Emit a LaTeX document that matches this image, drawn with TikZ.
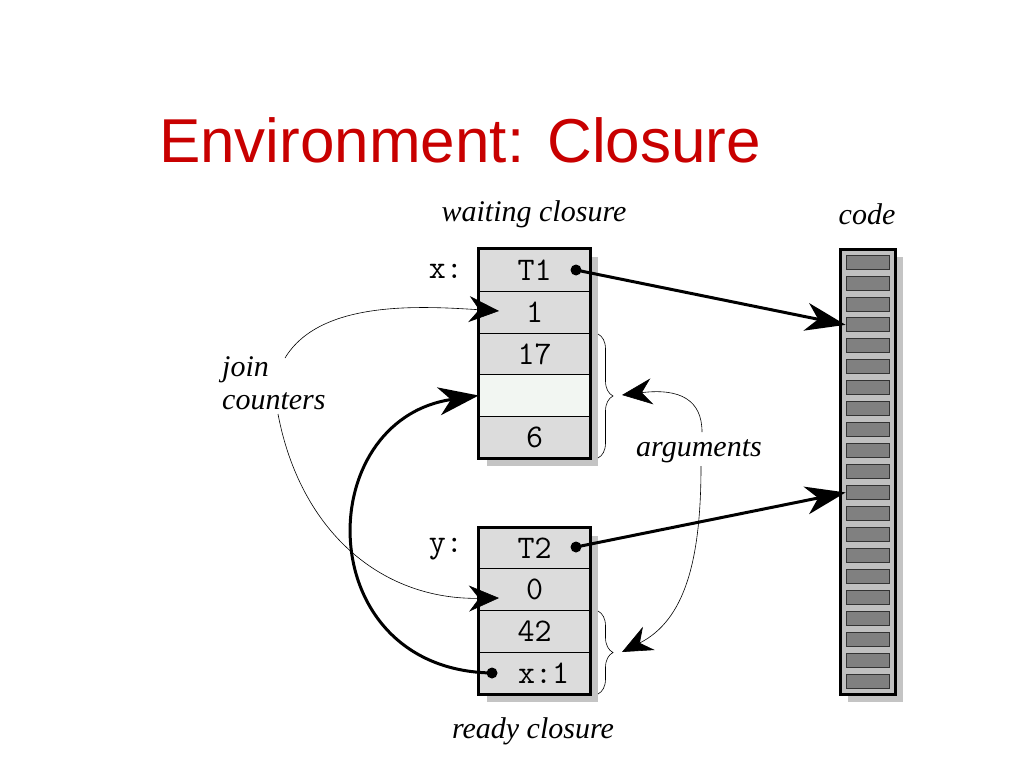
\documentclass[tikz,border=0pt]{standalone}
\usepackage{fontspec}
\setmainfont{Liberation Serif}
\newfontfamily\titlefont{Liberation Sans}
\usetikzlibrary{arrows.meta,decorations.pathreplacing}
\definecolor{titlered}{RGB}{200,0,0}
\definecolor{boxgray}{RGB}{220,220,220}
\definecolor{emptyfill}{RGB}{242,246,242}
\definecolor{shadowgray}{RGB}{196,196,196}
\definecolor{codegray}{RGB}{192,192,192}
\definecolor{slotgray}{RGB}{128,128,128}
\tikzset{
  rowbox/.style={draw, line width=0.7pt, fill=boxgray, minimum width=111pt, minimum height=41.8pt, inner sep=0pt, font=\ttfamily\fontsize{33}{34}\selectfont},
  varlabel/.style={anchor=east, inner sep=0pt, font=\ttfamily\fontsize{33}{34}\selectfont},
  itlabel/.style={inner sep=0pt, font=\itshape\fontsize{30}{33}\selectfont},
  frame/.style={draw, line width=3pt},
  slotbox/.style={draw=black!80, line width=0.8pt, fill=slotgray, minimum width=43pt, minimum height=14pt, inner sep=0pt},
  bigarrow/.style={line width=3pt, -{Stealth[length=40pt,width=28pt,inset=12pt]}},
  thinarrow/.style={line width=0.6pt, -{Stealth[length=30pt,width=26pt,inset=10pt]}},
  dotstart/.style={circle, fill=black, inner sep=0pt, minimum size=11pt},
  bracestyle/.style={draw, line width=0.6pt, decorate, decoration={brace, amplitude=15pt, aspect=0.5}}
}
\begin{document}
\begin{tikzpicture}[x=1pt,y=-1pt]
\useasboundingbox (0,0) rectangle (1024,768);
% title
\node[anchor=base, inner sep=0pt, text=titlered, font=\titlefont\fontsize{62}{70}\selectfont] (title) at (460,162) {Environment: Closure};
% headings
\node[itlabel, anchor=base] (wc) at (534,221) {waiting closure};
\node[itlabel, anchor=base] (code) at (867,224) {code};
\node[itlabel, anchor=base] (rc) at (533,738) {ready closure};

% shadows
\fill[shadowgray] (487,257) rectangle (598,466);
\fill[shadowgray] (487,536) rectangle (598,702);
\fill[shadowgray] (848,257) rectangle (903,702);

% waiting closure box
\node[rowbox] (t1) at (534.5,270) {T1};
\node[rowbox] (r1) at (534.5,312) {1};
\node[rowbox] (r17) at (534.5,354) {17};
\node[rowbox, fill=emptyfill] (rE) at (534.5,395.5) {};
\node[rowbox] (r6) at (534.5,437) {6};
\draw[frame] (t1.north west) rectangle (r6.south east);
\node[varlabel] (xl) at (463,271) {x:};

% ready closure box
\node[rowbox] (t2) at (534.5,548.5) {T2};
\node[rowbox] (r0) at (534.5,589.5) {0};
\node[rowbox] (r42) at (534.5,631) {42};
\node[rowbox] (rx) at (534.5,673) {\hspace*{18pt}x:1};
\draw[frame] (t2.north west) rectangle (rx.south east);
\node[varlabel] (yl) at (463,549) {y:};

% code column
\node[draw, line width=3pt, fill=codegray, minimum width=55pt, minimum height=445pt, inner sep=0pt] (col) at (867.5,471.5) {};
\foreach \i in {1,...,21} {
  \node[slotbox] (slot\i) at (867.5,{262+(\i-1)*20.95}) {};
}

% pointers to code
\node[dotstart] (d1) at (576,270) {};
\node[dotstart] (d2) at (576,547) {};
\draw[bigarrow] (d1.center) -- (slot4.west);
\draw[bigarrow] (d2.center) -- (slot12.west);

% x:1 pointer back to x
\node[dotstart] (d3) at (492,673) {};
\draw[bigarrow] (d3.center) .. controls (310,670) and (310,420) .. (rE.west);

% join counters
\node[itlabel, anchor=north west, align=left] (jc) at (222,356) {join\\counters};
\coordinate (jc1) at (285,358);
\coordinate (jc2) at (278,414);
\coordinate (a1) at (499,311);
\coordinate (a0) at (499,598);
\draw[thinarrow] (jc1) .. controls (320,300) and (420,306) .. (a1);
\draw[thinarrow] (jc2) .. controls (300,530) and (380,600) .. (a0);

% braces
\draw[bracestyle] (598,334) -- (598,458);
\draw[bracestyle] (598,611) -- (598,694);

% arguments
\node[itlabel, anchor=base] (args) at (699,456) {arguments};
\coordinate (g1) at (702,432);
\coordinate (g2) at (701,466);
\draw[thinarrow] (g1) .. controls (702,400) and (680,388) .. (622,395);
\draw[thinarrow] (g2) .. controls (701,560) and (685,620) .. (622,652);
\end{tikzpicture}
\end{document}
